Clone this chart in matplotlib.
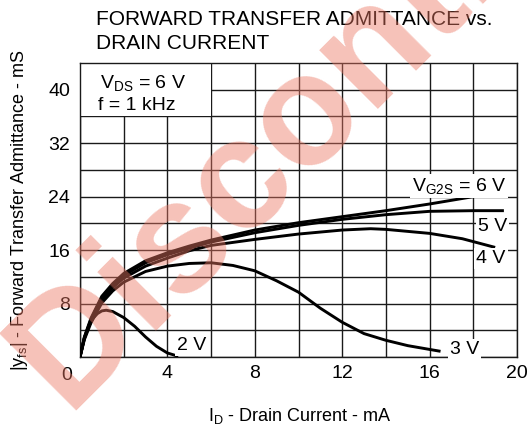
import matplotlib
matplotlib.use('Agg')
import matplotlib.pyplot as plt
from matplotlib.patches import Rectangle

plt.rcParams['font.family'] = ['Liberation Sans', 'DejaVu Sans']
plt.rcParams['mathtext.fontset'] = 'custom'
plt.rcParams['mathtext.rm'] = 'Liberation Sans'
plt.rcParams['mathtext.it'] = 'Liberation Sans:italic'
plt.rcParams['mathtext.bf'] = 'Liberation Sans:bold'

# ---- data ----
x_6v = [0, 0.2, 0.5, 1, 1.5, 2, 3, 4, 5, 6, 8, 10, 12, 14, 16, 18]
y_6v = [0, 3.0, 5.8, 9.1, 11.0, 12.5, 14.4, 15.6, 16.6, 17.5, 19.0, 20.1, 21.0, 21.9, 22.9, 24.0]

x_5v = [0, 0.2, 0.5, 1, 1.5, 2, 3, 4, 5, 6, 8, 10, 12, 14, 16, 18, 19.4]
y_5v = [0, 2.9, 5.6, 8.9, 10.8, 12.2, 14.1, 15.3, 16.3, 17.2, 18.6, 19.7, 20.6, 21.3, 21.8, 21.9, 21.9]

x_4v = [0, 0.2, 0.5, 1, 1.5, 2, 3, 4, 5, 6, 8, 10, 12, 13.3, 14, 16, 17.5, 19]
y_4v = [0, 2.8, 5.4, 8.5, 10.4, 11.8, 13.6, 14.8, 15.9, 16.7, 17.6, 18.4, 19.0, 19.2, 19.1, 18.5, 17.7, 16.4]

x_3v = [0, 0.2, 0.5, 1, 1.5, 2, 3, 4, 5, 6, 7, 8, 9, 10, 11, 12, 13, 14, 15, 16.5]
y_3v = [0, 2.6, 5.1, 8.1, 9.9, 11.2, 12.8, 13.6, 14.0, 14.1, 13.7, 12.9, 11.4, 9.7, 7.3, 5.2, 3.5, 2.5, 1.7, 0.85]

x_2v = [0, 0.2, 0.4, 0.6, 0.8, 1.0, 1.2, 1.5, 2, 2.5, 3, 3.5, 4, 4.5]
y_2v = [0, 2.8, 4.6, 5.8, 6.5, 6.9, 7.0, 6.8, 5.9, 4.6, 3.0, 1.6, 0.6, 0.1]

x_major = [0, 4, 8, 12, 16, 20]
x_labels = ['', '4', '8', '12', '16', '20']
y_major = [0, 8, 16, 24, 32, 40]
y_labels = ['', '8', '16', '24', '32', '40']

title_lines = ['FORWARD TRANSFER ADMITTANCE vs.', 'DRAIN CURRENT']

# ---- figure ----
fig = plt.figure(figsize=(5.28, 4.25), dpi=100)
ax = fig.add_axes([80/528, 1-357/425, 437/528, 294/425])
ax.set_xlim(0, 20)
ax.set_ylim(0, 44)

ax.set_xticks(x_major)
ax.set_xticklabels(x_labels)
ax.set_xticks(range(2, 20, 4), minor=True)
ax.set_yticks(y_major)
ax.set_yticklabels(y_labels)
ax.set_yticks(range(4, 44, 8), minor=True)
ax.tick_params(which='both', length=0)
ax.tick_params(axis='x', pad=6, labelsize=14)
ax.tick_params(axis='y', pad=7, labelsize=14)
ax.set_axisbelow(True)
ax.grid(True, which='both', color='#1a1a1a', linewidth=1.0)
for s in ax.spines.values():
    s.set_color('#1a1a1a')
    s.set_linewidth(1.0)

# white box behind conditions text
ax.add_patch(Rectangle((0, 36), 6, 8, facecolor='white', edgecolor='none', zorder=1))

lw = 2.1
for xs, ys in [(x_6v, y_6v), (x_5v, y_5v), (x_4v, y_4v), (x_3v, y_3v), (x_2v, y_2v)]:
    ax.plot(xs, ys, color='black', linewidth=lw, solid_capstyle='butt', zorder=3)

bb = dict(facecolor='white', edgecolor='none', pad=1.5)
fs = 14
ax.text(17.35, 24.8, r'V$_{\mathregular{G2S}}$ = 6 V', ha='center', va='baseline', fontsize=fs, bbox=bb, zorder=4)
ax.text(18.88, 18.8, '5 V', ha='center', va='baseline', fontsize=fs, bbox=bb, zorder=4)
ax.text(18.8, 14.1, '4 V', ha='center', va='baseline', fontsize=fs, bbox=bb, zorder=4)
ax.text(17.6, 0.5, '3 V', ha='center', va='baseline', fontsize=fs, bbox=bb, zorder=4)
ax.text(5.13, 1.0, '2 V', ha='center', va='baseline', fontsize=fs, bbox=bb, zorder=4)
ax.text(0.9, 40.3, r'V$_{\mathregular{DS}}$ = 6 V', ha='left', va='baseline', fontsize=fs, zorder=4)
ax.text(0.82, 37.0, 'f = 1 kHz', ha='left', va='baseline', fontsize=fs, zorder=4)

# corner zero
fig.text(66.7/528, 1-379.7/425, '0', ha='center', va='baseline', fontsize=14)

# titles
fig.text(96/528, 1-25/425, title_lines[0], ha='left', va='baseline', fontsize=15)
fig.text(96/528, 1-49.3/425, title_lines[1], ha='left', va='baseline', fontsize=15)

# axis labels
fig.text(300/528, 1-421.3/425, r'I$_{\mathregular{D}}$ - Drain Current - mA', ha='center', va='baseline', fontsize=13)
fig.text(20/528, 1-210/425, r'|y$_{\mathregular{fs}}$| - Forward Transfer Admittance - mS',
         ha='center', va='center', rotation=90, fontsize=13)

# watermark
fig.text(66/528, 1-411/425, 'Discontinued', ha='left', va='baseline', rotation=45,
         rotation_mode='anchor', fontsize=113, fontweight='bold', color='#EB7864', alpha=0.45, zorder=10)

fig.savefig('out.png', dpi=100)
